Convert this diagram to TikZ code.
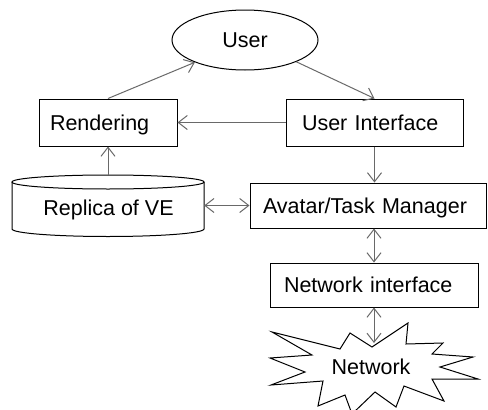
\documentclass[tikz,border=0pt]{standalone}
\usepackage{fontspec}
\setmainfont{Liberation Sans}
\usetikzlibrary{arrows.meta,shapes.geometric,calc}
\definecolor{arrowgray}{RGB}{105,105,105}
\tikzset{
  conn/.style={draw=arrowgray, line width=1pt, -{Straight Barb[length=9pt,width=14pt]}},
  dconn/.style={draw=arrowgray, line width=1pt, {Straight Barb[length=9pt,width=14pt]}-{Straight Barb[length=9pt,width=14pt]}},
  boxnode/.style={draw=black, line width=1pt, rectangle, inner ysep=0pt, align=left, text depth=0pt, font=\fontsize{21.5}{25}\selectfont},
  plaintext/.style={inner sep=0pt, text depth=0pt, font=\fontsize{21.5}{25}\selectfont}
}
\begin{document}
\begin{tikzpicture}[x=1pt,y=-1pt]
\useasboundingbox[fill=white] (0,0) rectangle (488,410);
% User ellipse
\node[draw=black, line width=1pt, ellipse, minimum width=146pt, minimum height=60pt, inner sep=0pt, text depth=0pt, font=\fontsize{21.5}{25}\selectfont] (user) at (245,40) {User};
% boxes
\node[boxnode, inner xsep=11pt, text width=116pt, minimum height=47pt] (rend) at (108,122.5) {Rendering};
\node[boxnode, inner xsep=16pt, text width=145pt, minimum height=47pt] (ui) at (374.5,122.5) {User Interface};
\node[boxnode, inner xsep=13pt, text width=210pt, minimum height=45pt] (atm) at (368,205.5) {Avatar/Task Manager};
\node[boxnode, inner xsep=14pt, text width=180pt, minimum height=44pt] (ni) at (374,285) {Network interface};
% cylinder
\draw[line width=1pt] (12,182) -- (12,229) arc[start angle=180, end angle=360, x radius=96pt, y radius=7.5pt] -- (204,182);
\draw[line width=1pt] (108,182) ellipse[x radius=96pt, y radius=7pt];
\node[rectangle, minimum width=192pt, minimum height=61pt, inner sep=0pt] (rep) at (108,205.5) {};
\node[plaintext] (reptext) at (108.5,208) {Replica of VE};
% network starburst
\draw[line width=1pt] (272,332) -- (340,349) -- (350,333) -- (372,347) -- (408,323) -- (406,344)
  -- (443,343) -- (432,354) -- (473,357) -- (440,367) -- (478,379) -- (432,379) -- (444,401)
  -- (404,386) -- (396,407) -- (375,392) -- (352,414) -- (345,395) -- (318,406) -- (323,381)
  -- (271,385) -- (305,372) -- (270,358) -- (312,355) -- cycle;
\node[plaintext] (net) at (371,367) {Network};
\coordinate (nettop) at (374,343);
% connectors
\draw[conn] (rend.north) -- (user.204);
\draw[conn] (user.-23) -- (ui.north);
\draw[conn] (ui.west) -- (rend.east);
\draw[conn] (ui.south) -- (ui.south |- atm.north);
\draw[conn] (rep.north) -- (rend.south);
\draw[dconn] (rep.east) -- (atm.west);
\draw[dconn] (atm.south -| ni.north) -- (ni.north);
\draw[dconn] (ni.south) -- (nettop);
\end{tikzpicture}
\end{document}
